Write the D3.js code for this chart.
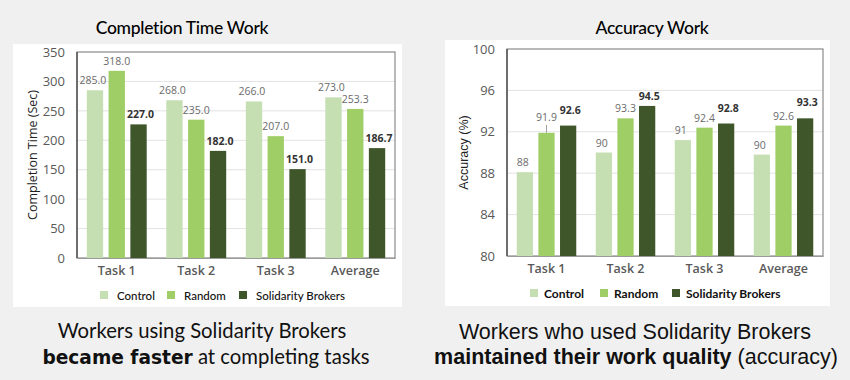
<!DOCTYPE html>
<html><head><meta charset="utf-8">
<script src="https://cdn.jsdelivr.net/npm/d3@7"></script>
<style>
html,body{margin:0;padding:0;background:#f0f0f0;}
svg{display:block;}
</style></head>
<body>
<svg id="c" width="850" height="380"></svg>
<script>
const categories = ["Task 1", "Task 2", "Task 3", "Average"];
const seriesNames = ["Control", "Random", "Solidarity Brokers"];
const seriesColors = ["#c5dfb3", "#9fcd66", "#3e5629"];

const timeControl = [285.0, 268.0, 266.0, 273.0];
const timeRandom = [318.0, 235.0, 207.0, 253.3];
const timeBrokers = [227.0, 182.0, 151.0, 186.7];
const timeTicks = [0, 50, 100, 150, 200, 250, 300, 350];

const accControl = [88.1, 90.0, 91.2, 89.8];
const accControlLabels = ["88", "90", "91", "90"];
const accRandom = [91.9, 93.3, 92.4, 92.6];
const accBrokers = [92.6, 94.5, 92.8, 93.3];
const accTicks = [80, 84, 88, 92, 96, 100];

const svg = d3.select("#c");
svg.append("rect").attr("width", 850).attr("height", 380).attr("fill", "#f0f0f0");

function drawChart(o) {
  const g = svg.append("g");
  g.append("rect").attr("x", o.panel[0]).attr("y", o.panel[1])
    .attr("width", o.panel[2]).attr("height", o.panel[3]).attr("fill", "#ffffff");
  const x = d3.scaleBand().domain(categories).range([o.left, o.right]);
  const y = d3.scaleLinear().domain(o.domain).range([o.bottom, o.top]);
  const xs = d3.scaleBand().domain(seriesNames).range([0, x.bandwidth()]).paddingInner(0.25).paddingOuter(0.45);

  // gridlines
  g.append("g").selectAll("line").data(o.ticks.slice(1, -1)).join("line")
    .attr("x1", o.left).attr("x2", o.right)
    .attr("y1", d => y(d)).attr("y2", d => y(d))
    .attr("stroke", "#e3e3e3").attr("stroke-width", 1);

  // frame
  g.append("rect").attr("x", o.left).attr("y", o.top)
    .attr("width", o.right - o.left).attr("height", o.bottom - o.top)
    .attr("fill", "none").attr("stroke", "#8a8a8a").attr("stroke-width", 1.2);
  g.append("line").attr("x1", o.left).attr("x2", o.left).attr("y1", o.top).attr("y2", o.bottom)
    .attr("stroke", "#555").attr("stroke-width", 1.5);

  // y axis
  const ya = d3.axisLeft(y).tickValues(o.ticks).tickSize(0).tickPadding(12).tickFormat(d3.format("d"));
  const yg = g.append("g").attr("transform", `translate(${o.left},0)`).call(ya);
  yg.select(".domain").remove();
  yg.selectAll("text").attr("font-family", "Open Sans, sans-serif").attr("font-size", 13)
    .attr("fill", "#595959");

  // x axis
  const xa = d3.axisBottom(x).tickSize(0).tickPadding(8);
  const xg = g.append("g").attr("transform", `translate(0,${o.bottom})`).call(xa);
  xg.select(".domain").attr("stroke", "#9a9a9a").attr("stroke-width", 1.2);
  xg.selectAll("text").attr("font-family", "Open Sans, sans-serif").attr("font-size", 12.5)
    .attr("font-weight", 600).attr("fill", "#595959");

  // bars
  o.series.forEach((vals, si) => {
    const sg = g.append("g");
    sg.selectAll("rect").data(vals).join("rect")
      .attr("x", (d, i) => x(categories[i]) + xs(seriesNames[si]))
      .attr("y", d => y(d))
      .attr("width", xs.bandwidth())
      .attr("height", d => y(o.domain[0]) - y(d))
      .attr("fill", seriesColors[si]);
    const labs = o.labels[si];
    sg.selectAll("text").data(vals).join("text")
      .attr("x", (d, i) => x(categories[i]) + xs(seriesNames[si]) + xs.bandwidth() / 2 + (si - 1) * 2)
      .attr("y", (d, i) => y(d) - 6 - (o.labelLift ? o.labelLift[si][i] : 0))
      .attr("text-anchor", "middle")
      .attr("font-family", "Open Sans, sans-serif")
      .attr("font-size", 10.5)
      .attr("font-weight", si === 2 ? 700 : 400)
      .attr("fill", si === 2 ? "#333333" : "#6b6b6b")
      .text((d, i) => labs[i]);
  });

  // y axis title
  g.append("text").attr("transform", `translate(${o.ytitleX},${(o.top + o.bottom) / 2}) rotate(-90)`)
    .attr("text-anchor", "middle").attr("font-family", o.ytitleFont)
    .attr("font-size", 12.5).attr("fill", "#222").text(o.ytitle);

  // chart title
  g.append("text").attr("x", o.titleX).attr("y", o.titleY).attr("text-anchor", "middle")
    .attr("font-family", "Lato, sans-serif").attr("font-size", 17.5).attr("fill", "#000")
    .attr("font-weight", 500).attr("letter-spacing", -0.3).text(o.title);

  // legend
  const lg = g.append("g").attr("transform", `translate(0,${o.legendY})`);
  seriesNames.forEach((s, i) => {
    lg.append("rect").attr("x", o.legendX[i]).attr("y", -9).attr("width", 8).attr("height", 8)
      .attr("fill", seriesColors[i]);
    lg.append("text").attr("x", o.legendX[i] + o.legendGap).attr("y", 0)
      .attr("font-family", "Lato, sans-serif").attr("font-size", o.legendSize)
      .attr("font-weight", o.legendWeight).attr("fill", "#111").text(s);
  });
  return { x, y, xs };
}

const left = drawChart({
  panel: [13, 44, 389, 263],
  left: 77, right: 395, top: 52, bottom: 258,
  domain: [0, 350], ticks: timeTicks,
  series: [timeControl, timeRandom, timeBrokers],
  labels: [timeControl.map(d => d.toFixed(1)), timeRandom.map(d => d.toFixed(1)), timeBrokers.map(d => d.toFixed(1))],
  ytitle: "Completion Time (Sec)", ytitleX: 37, ytitleFont: "Open Sans, sans-serif",
  title: "Completion Time Work", titleX: 182, titleY: 34,
  legendY: 300, legendX: [100, 167, 239], legendGap: 17, legendSize: 11.5, legendWeight: 500
});

const right = drawChart({
  panel: [445, 40, 385, 266],
  left: 507, right: 823, top: 49, bottom: 256,
  domain: [80, 100], ticks: accTicks,
  series: [accControl, accRandom, accBrokers],
  labels: [accControlLabels, accRandom.map(d => d.toFixed(1)), accBrokers.map(d => d.toFixed(1))],
  labelLift: [[0,0,0,0],[6,0,0,0],[6,0,6,6]],
  ytitle: "Accuracy (%)", ytitleX: 468, ytitleFont: "Liberation Sans, Arial, sans-serif",
  title: "Accuracy Work", titleX: 652, titleY: 34,
  legendY: 298, legendX: [530, 600, 672], legendGap: 14, legendSize: 12, legendWeight: 700
});

// leader line for 91.9 label
{
  const { x, y, xs } = right;
  const cx = x(categories[0]) + xs(seriesNames[1]) + xs.bandwidth() / 2;
  svg.append("line").attr("x1", cx).attr("x2", cx)
    .attr("y1", y(accRandom[0]) - 8).attr("y2", y(accRandom[0]))
    .attr("stroke", "#a0a0a0").attr("stroke-width", 1);
}

// captions
const cap1 = svg.append("text").attr("text-anchor", "middle").attr("font-family", "Lato, sans-serif")
  .attr("font-size", 20.3).attr("fill", "#111");
cap1.append("tspan").attr("x", 202).attr("y", 338).text("Workers using Solidarity Brokers");
const l2 = cap1.append("tspan").attr("x", 206).attr("y", 364);
l2.append("tspan").attr("font-family", "DejaVu Sans, sans-serif").attr("font-weight", 700)
  .attr("font-size", 18.6).text("became faster");
l2.append("tspan").text(" at completing tasks");

const cap2 = svg.append("text").attr("text-anchor", "middle").attr("font-family", "Liberation Sans, Arial, sans-serif")
  .attr("font-size", 21.5).attr("fill", "#111");
cap2.append("tspan").attr("x", 635).attr("y", 339).text("Workers who used Solidarity Brokers");
const r2 = cap2.append("tspan").attr("x", 636).attr("y", 364);
r2.append("tspan").attr("font-weight", 700).text("maintained their work quality");
r2.append("tspan").text(" (accuracy)");
</script>
</body></html>
